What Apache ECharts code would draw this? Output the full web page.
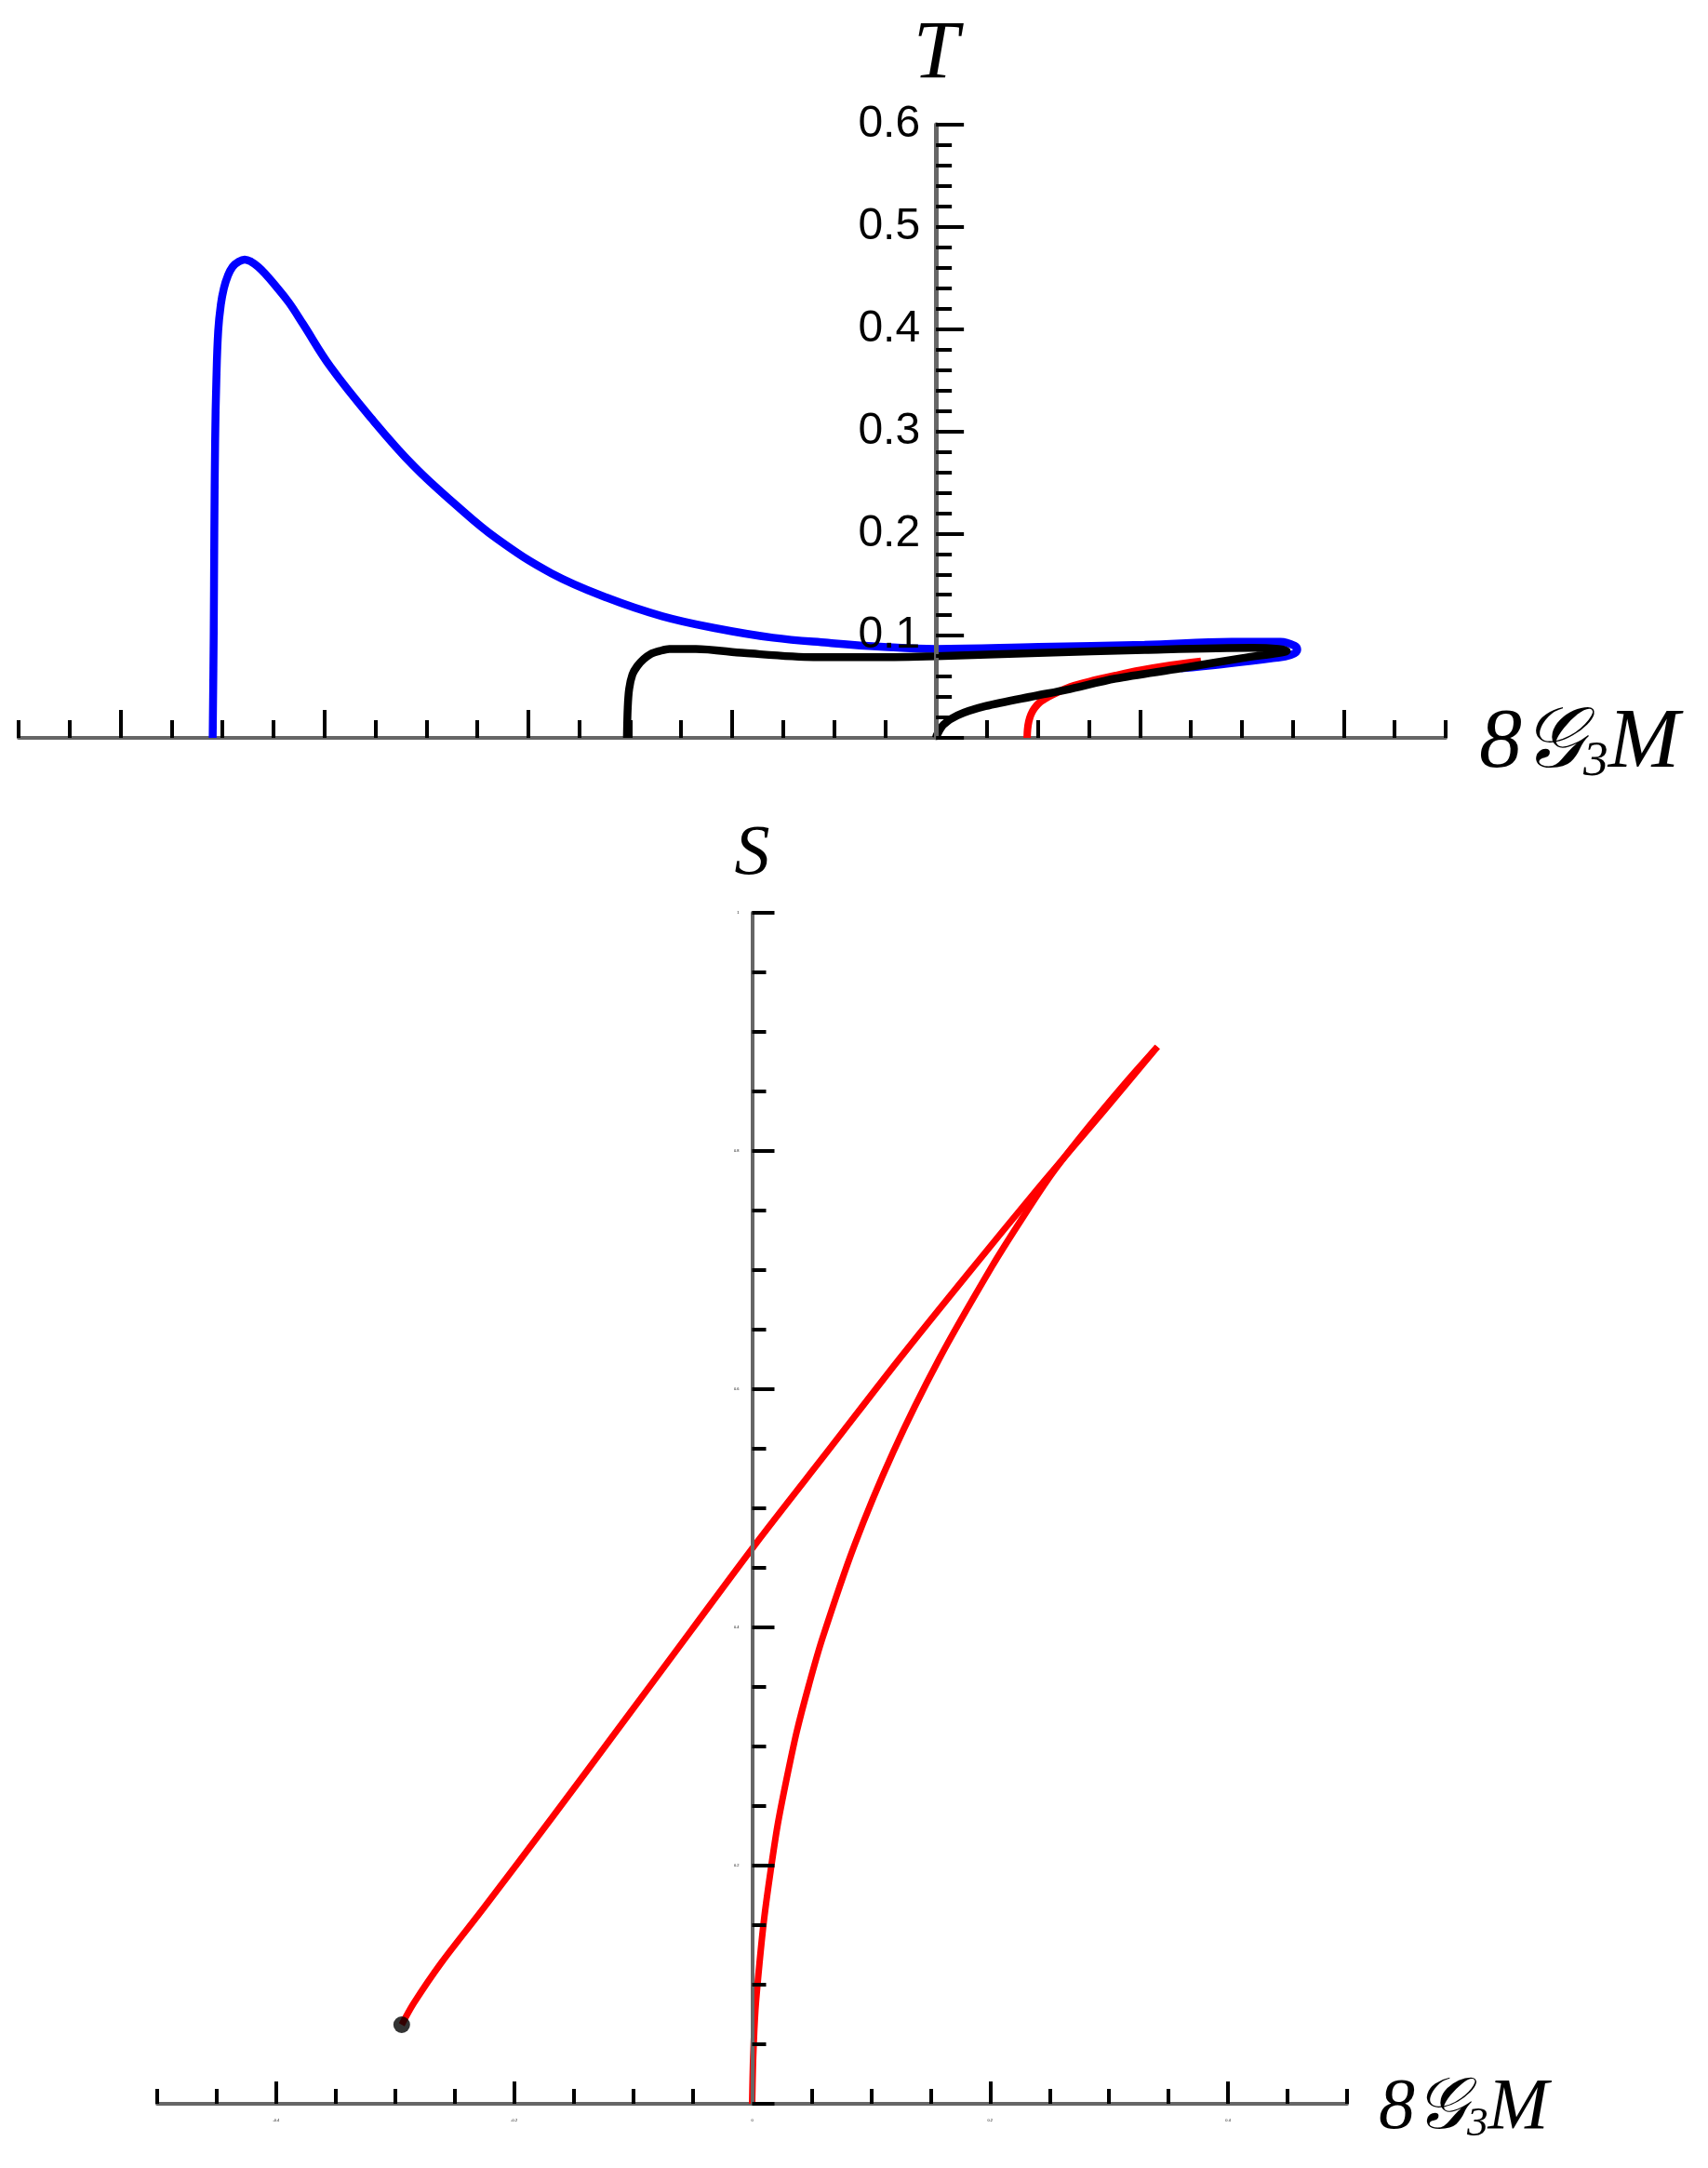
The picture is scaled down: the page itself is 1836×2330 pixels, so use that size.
<!DOCTYPE html>
<html>
<head>
<meta charset="utf-8">
<script src="https://cdn.jsdelivr.net/npm/echarts@6/dist/echarts.min.js"></script>
<style>
  html, body { margin: 0; padding: 0; background: #fff; }
  #chart { width: 1836px; height: 2330px; }
</style>
</head>
<body>
<div id="chart"></div>
<script>
// top panel: T against 8G3M (x in units of one long tick)
const blueCurve = [
  [-3.548, 0], [-3.543, 0.100], [-3.540, 0.200], [-3.536, 0.290], [-3.530, 0.350], [-3.521, 0.398],
  [-3.508, 0.424], [-3.493, 0.440], [-3.474, 0.452], [-3.450, 0.461], [-3.420, 0.466], [-3.391, 0.468],
  [-3.360, 0.466], [-3.325, 0.461], [-3.290, 0.454], [-3.242, 0.443], [-3.174, 0.426], [-3.105, 0.405],
  [-2.970, 0.363], [-2.767, 0.312], [-2.562, 0.266], [-2.361, 0.229], [-2.155, 0.195], [-1.886, 0.161],
  [-1.612, 0.137], [-1.342, 0.119], [-1.073, 0.107], [-0.799, 0.098], [-0.530, 0.093], [-0.256, 0.089],
  [0, 0.087], [0.502, 0.089], [1.023, 0.091], [1.450, 0.094], [1.690, 0.094], [1.760, 0.090],
  [1.772, 0.086], [1.740, 0.081], [1.653, 0.078], [1.400, 0.072], [1.200, 0.068]
]
const blackCurve = [
  [-1.516, 0], [-1.512, 0.030], [-1.505, 0.048], [-1.489, 0.062], [-1.466, 0.070], [-1.434, 0.077],
  [-1.400, 0.082], [-1.356, 0.085], [-1.308, 0.087], [-1.178, 0.087], [-0.941, 0.083], [-0.600, 0.079],
  [-0.288, 0.079], [0, 0.080], [0.502, 0.083], [1.023, 0.086], [1.548, 0.088], [1.680, 0.087],
  [1.721, 0.085], [1.680, 0.083], [1.500, 0.078], [1.200, 0.068], [0.881, 0.058], [0.639, 0.047],
  [0.484, 0.041], [0.242, 0.031], [0.105, 0.022], [0.037, 0.013], [0.005, 0.003], [0, 0]
]
const redCurve = [
  [0.447, 0], [0.449, 0.008], [0.455, 0.016], [0.466, 0.023], [0.483, 0.029], [0.510, 0.035],
  [0.550, 0.040], [0.600, 0.045], [0.660, 0.050], [0.750, 0.055], [0.881, 0.061], [1.000, 0.066],
  [1.150, 0.071], [1.300, 0.075]
]
const tXRange = [-4.5, 2.5]
const tMajorTicks = [-4, -3, -2, -1, 0, 1, 2]
const tLabels = [0.1, 0.2, 0.3, 0.4, 0.5, 0.6]

// bottom panel: S against 8G3M
const sRising = [
  [-0.2945, 0.0664], [-0.2844, 0.0844], [-0.2609, 0.1188], [-0.2258, 0.1641], [-0.1680, 0.2406],
  [-0.1102, 0.3180], [-0.0516, 0.3969], [0.0031, 0.4703], [0.0664, 0.5516], [0.1234, 0.6250],
  [0.1820, 0.6977], [0.2398, 0.7680], [0.2969, 0.8352], [0.3406, 0.8875]
]
const sReturn = [
  [0.3406, 0.8875], [0.3156, 0.8594], [0.2828, 0.8203], [0.2523, 0.7813], [0.2262, 0.7422],
  [0.2016, 0.7031], [0.1570, 0.6250], [0.1184, 0.5469], [0.0859, 0.4688], [0.0590, 0.3906],
  [0.0477, 0.3516], [0.0375, 0.3125], [0.0291, 0.2734], [0.0215, 0.2344], [0.0155, 0.1953],
  [0.0102, 0.1563], [0.0061, 0.1172], [0.0027, 0.0781], [0.0009, 0.0391], [0, 0]
]
const startDot = [[-0.2945, 0.0664]]
const mXRange = [-0.5, 0.5]
const mMajorTicks = [-0.4, -0.2, 0, 0.2, 0.4]
const mLabels = [-0.4, -0.2, 0, 0.2, 0.4]
const sLabels = [0.2, 0.4, 0.6, 0.8, 1.0]

const axisGray = '#666666'
const serif = 'Liberation Serif, DejaVu Serif, serif'
const W = 1836
const topBox = { left: 20, right: 282, top: 134, bottom: 1537 }
const botBox = { left: 169, right: 388, top: 981, bottom: 69 }

// pixel column of x = 0, so the vertical axis can sit in its own grid there
function zeroLeft(box, range) {
  const width = W - box.left - box.right
  return box.left + (0 - range[0]) / (range[1] - range[0]) * width
}

function mLabelRich(size) {
  return {
    a: { fontFamily: serif, fontStyle: 'italic', fontSize: size, color: '#000', verticalAlign: 'bottom', lineHeight: size * 1.15 },
    s: { fontFamily: serif, fontStyle: 'italic', fontSize: size * 0.58, color: '#000', verticalAlign: 'bottom', lineHeight: size * 0.58 }
  }
}

const hidden = {
  axisLine: { show: false }, axisTick: { show: false }, axisLabel: { show: false }, splitLine: { show: false }
}

const chart = echarts.init(document.getElementById('chart'))
const option = {
  animation: false,
  backgroundColor: '#fff',
  grid: [
    Object.assign({ outerBoundsMode: 'none' }, topBox),
    Object.assign({ outerBoundsMode: 'none' }, topBox, { left: zeroLeft(topBox, tXRange), right: 20 }),
    Object.assign({ outerBoundsMode: 'none' }, botBox),
    Object.assign({ outerBoundsMode: 'none' }, botBox, { left: zeroLeft(botBox, mXRange), right: 20 })
  ],
  xAxis: [
    { // 0: top, short ticks
      type: 'value', gridIndex: 0, min: tXRange[0], max: tXRange[1], interval: 0.25, position: 'bottom',
      name: '{a|8}{a|𝒢}{s|3}{a|M}', nameLocation: 'end', nameGap: 36,
      nameTextStyle: { rich: mLabelRich(92) },
      axisLine: { show: true, onZero: false, lineStyle: { color: axisGray, width: 4 } },
      axisTick: { show: true, inside: true, length: 19, lineStyle: { color: '#000', width: 4 } },
      axisLabel: { show: false }, splitLine: { show: false }
    },
    { // 1: top, long ticks
      type: 'value', gridIndex: 0, min: tXRange[0], max: tXRange[1], position: 'bottom',
      axisLine: { show: false, onZero: false },
      axisTick: { show: true, inside: true, length: 30, customValues: tMajorTicks, lineStyle: { color: '#000', width: 4 } },
      axisLabel: { show: false }, splitLine: { show: false }
    },
    Object.assign({ type: 'value', gridIndex: 1, min: 0, max: 1 }, hidden), // 2
    { // 3: bottom, short ticks
      type: 'value', gridIndex: 2, min: mXRange[0], max: mXRange[1], interval: 0.05, position: 'bottom',
      name: '{a|8}{a|𝒢}{s|3}{a|M}', nameLocation: 'end', nameGap: 34,
      nameTextStyle: { rich: mLabelRich(78) },
      axisLine: { show: true, onZero: false, lineStyle: { color: axisGray, width: 4 } },
      axisTick: { show: true, inside: true, length: 16, lineStyle: { color: '#000', width: 4 } },
      axisLabel: { show: false }, splitLine: { show: false }
    },
    { // 4: bottom, long ticks and tiny labels
      type: 'value', gridIndex: 2, min: mXRange[0], max: mXRange[1], position: 'bottom',
      axisLine: { show: false, onZero: false },
      axisTick: { show: true, inside: true, length: 24, customValues: mMajorTicks, lineStyle: { color: '#000', width: 4 } },
      axisLabel: { show: true, customValues: mLabels, fontSize: 4, color: '#000', margin: 16 },
      splitLine: { show: false }
    },
    Object.assign({ type: 'value', gridIndex: 3, min: 0, max: 1 }, hidden) // 5
  ],
  yAxis: [
    Object.assign({ type: 'value', gridIndex: 0, min: 0, max: 0.6 }, hidden), // 0
    { // 1: visible T axis at x = 0
      type: 'value', gridIndex: 1, min: 0, max: 0.6, interval: 0.1, z: 5, position: 'left',
      name: 'T', nameLocation: 'end', nameGap: 30,
      nameTextStyle: { fontFamily: serif, fontStyle: 'italic', fontSize: 88, color: '#000' },
      axisLine: { show: true, onZero: false, lineStyle: { color: axisGray, width: 5 } },
      axisTick: { show: true, inside: true, length: 30, lineStyle: { color: '#000', width: 4 } },
      minorTick: { show: true, splitNumber: 5, length: 17, lineStyle: { color: '#000', width: 4 } },
      axisLabel: {
        show: true, customValues: tLabels, margin: 17, fontSize: 48,
        fontFamily: 'Liberation Sans, Arial, sans-serif', color: '#000'
      },
      splitLine: { show: false }, minorSplitLine: { show: false }
    },
    Object.assign({ type: 'value', gridIndex: 2, min: 0, max: 1 }, hidden), // 2
    { // 3: visible S axis at x = 0
      type: 'value', gridIndex: 3, min: 0, max: 1, interval: 0.2, z: 5, position: 'left',
      name: 'S', nameLocation: 'end', nameGap: 24,
      nameTextStyle: { fontFamily: serif, fontStyle: 'italic', fontSize: 76, color: '#000' },
      axisLine: { show: true, onZero: false, lineStyle: { color: axisGray, width: 4 } },
      axisTick: { show: true, inside: true, length: 24, lineStyle: { color: '#000', width: 4 } },
      minorTick: { show: true, splitNumber: 4, length: 15, lineStyle: { color: '#000', width: 4 } },
      axisLabel: { show: true, customValues: sLabels, margin: 14, fontSize: 4, color: '#000' },
      splitLine: { show: false }, minorSplitLine: { show: false }
    }
  ],
  series: [
    {
      name: 'blue', type: 'line', xAxisIndex: 0, yAxisIndex: 0, data: blueCurve,
      showSymbol: false, smooth: 0.4, lineStyle: { color: '#0000ff', width: 8.5 }
    },
    {
      name: 'red', type: 'line', xAxisIndex: 0, yAxisIndex: 0, data: redCurve,
      showSymbol: false, smooth: 0.3, lineStyle: { color: '#ff0000', width: 8 }
    },
    {
      name: 'black', type: 'line', xAxisIndex: 0, yAxisIndex: 0, data: blackCurve,
      showSymbol: false, smooth: 0.3, lineStyle: { color: '#000000', width: 8.5 }
    },
    {
      name: 'S rising', type: 'line', xAxisIndex: 3, yAxisIndex: 2, data: sRising,
      showSymbol: false, smooth: 0.3, lineStyle: { color: '#ff0000', width: 7 }
    },
    {
      name: 'S return', type: 'line', xAxisIndex: 3, yAxisIndex: 2, data: sReturn,
      showSymbol: false, smooth: 0.3, lineStyle: { color: '#ff0000', width: 7 }
    },
    {
      name: 'start', type: 'scatter', xAxisIndex: 3, yAxisIndex: 2, data: startDot,
      symbolSize: 18, itemStyle: { color: '#000' }, z: 4
    }
  ]
}
chart.setOption(option)
</script>
</body>
</html>
